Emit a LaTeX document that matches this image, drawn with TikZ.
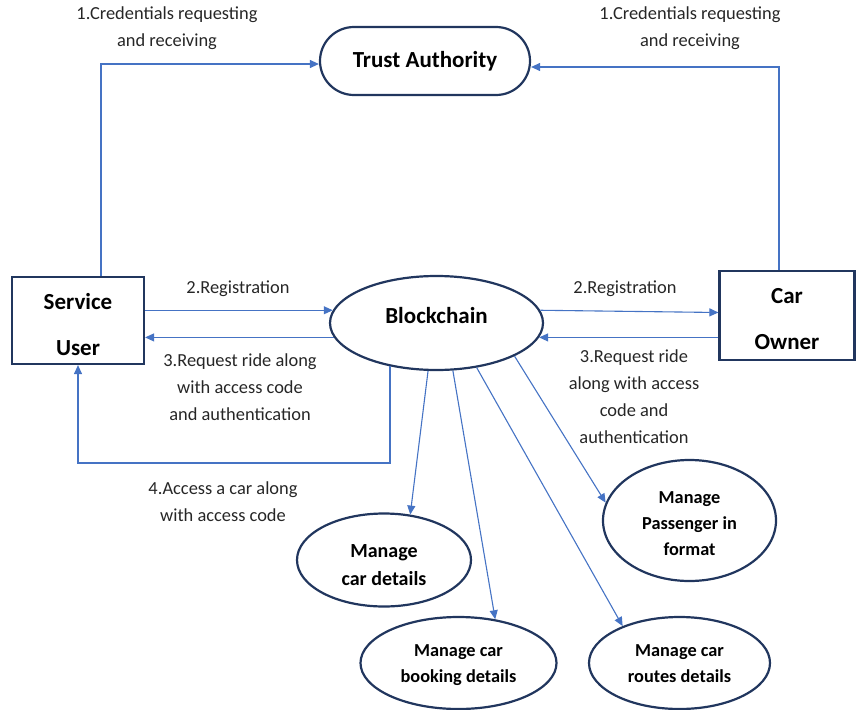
\documentclass[tikz,border=0pt]{standalone}
\usepackage{fontspec}
\setmainfont{Carlito}
\usepackage{tikz}
\usetikzlibrary{positioning,calc,shapes.geometric,shapes.misc,arrows.meta}
\definecolor{linkblue}{rgb}{0.27, 0.45, 0.77}
\definecolor{darknavy}{rgb}{0.13, 0.21, 0.37}

\begin{document}
\begin{tikzpicture}[x=1pt,y=-1pt,->,>={Triangle[length=9pt,width=8pt]},
                box node/.style={rectangle,draw=darknavy,line width=2.2pt,inner sep=0pt,align=center,font=\fontsize{23}{46}\selectfont\bfseries},
                oval node/.style={ellipse,draw=darknavy,line width=2.2pt,inner sep=0pt,align=center,font=\fontsize{18.3}{26}\selectfont\bfseries},
                note/.style={align=center,text=black!85,font=\fontsize{18.4}{27}\selectfont},
                link/.style={draw=linkblue,line width=1.1pt}]
    \useasboundingbox (0,0) rectangle (856,709);
%Nodes
    \node[box node,rounded rectangle,minimum width=210pt,minimum height=68pt] (ta) at (425,61) {Trust Authority};
    \node[box node,minimum width=132pt,minimum height=87pt,text height=70pt,text depth=0pt] (su) at (78,320.5) {Service\\User};
    \node[box node,minimum width=135pt,minimum height=89pt,text height=67.5pt,text depth=0pt] (co) at (787,315.5) {Car\\Owner};
    \node[oval node,font=\fontsize{23}{28}\selectfont\bfseries,minimum width=213pt,minimum height=94pt,text depth=16pt] (bc) at (436.5,323) {Blockchain};
    \node[oval node,font=\fontsize{20}{28}\selectfont\bfseries,minimum width=174pt,minimum height=93pt,text height=51pt,text depth=0pt] (mcd) at (384,560) {Manage\\car details};
    \node[oval node,minimum width=173pt,minimum height=121pt,text height=70pt,text depth=0pt] (mpf) at (689.5,520.5) {Manage\\Passenger in\\format};
    \node[oval node,minimum width=196pt,minimum height=92pt,text height=42pt,text depth=3.7pt] (mbd) at (458.5,663) {Manage car\\booking details};
    \node[oval node,minimum width=181pt,minimum height=92pt,text height=38pt,text depth=0pt] (mrd) at (679.5,663) {Manage car\\routes details};
    \coordinate (acc) at (78,463);

%Labels
    \node[note] (cred1) at (167,28) {1.Credentials requesting\\and receiving};
    \node[note] (cred2) at (690,28) {1.Credentials requesting\\and receiving};
    \node[note] (reg1) at (238,289) {2.Registration};
    \node[note] (reg2) at (625,289) {2.Registration};
    \node[note] (req1) at (240,387) {3.Request ride along\\with access code\\and authentication};
    \node[note] (req2) at (634,396.5) {3.Request ride\\along with access\\code and\\authentication};
    \node[note] (acc1) at (223,502) {4.Access a car along\\with access code};

%Connectors
    \draw[link] ([xshift=23pt]su.north) |- ([yshift=-3pt]ta.west);
    \draw[link] ([xshift=-8pt]co.north) |- ([yshift=-6pt]ta.east);
    \draw[link] (su.east |- bc.173) -- (bc.173);
    \draw[link] (bc.188) -- (bc.188 -| su.east);
    \draw[link] (bc.223) |- (acc) -- (su.south);
    \draw[link] (bc.7) -- ([yshift=3pt]co.west);
    \draw[link] (co.west |- bc.352) -- (bc.352);
    \draw[link] (bc.260) -- (mcd.60);
    \draw[link] (bc.289) -- (mbd.50);
    \draw[link] (bc.312) -- (mrd.147);
    \draw[link] (bc.337) -- (mpf.168);
\end{tikzpicture}
\end{document}
